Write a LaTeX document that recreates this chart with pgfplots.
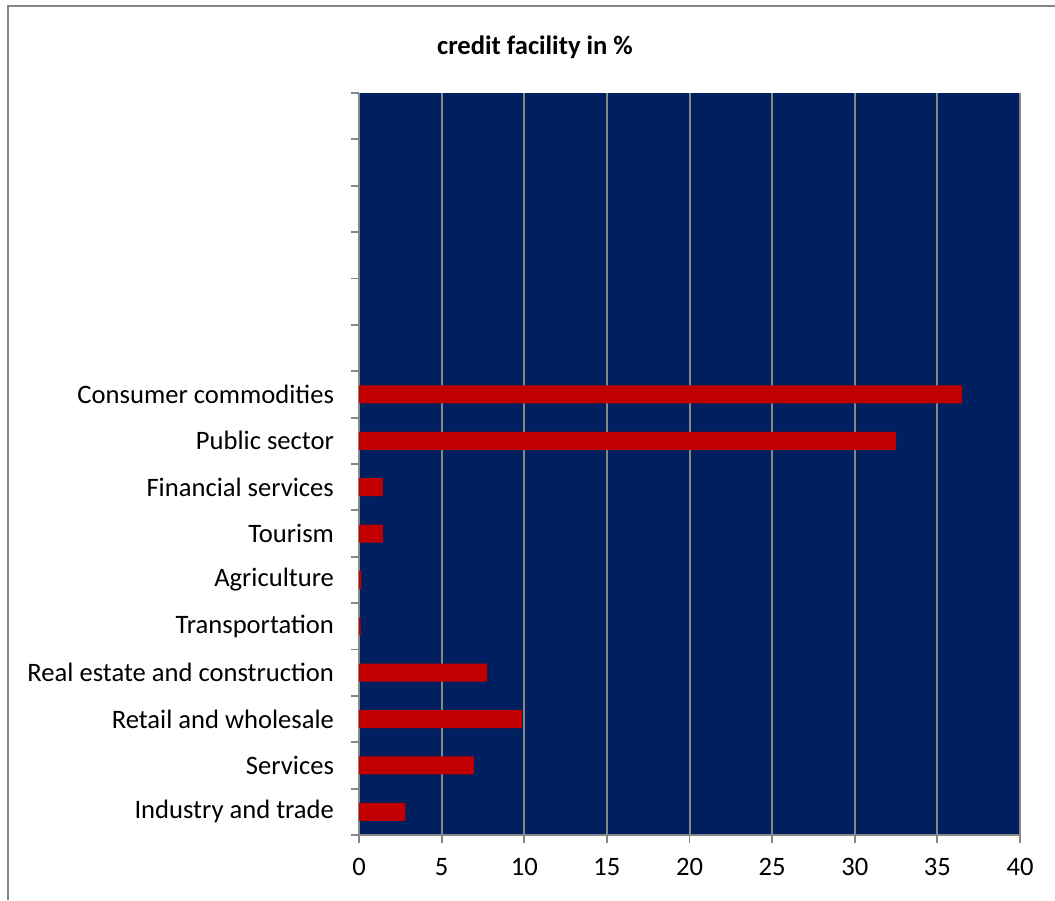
\documentclass[border=0pt]{standalone}
\usepackage{fontspec}
\setmainfont{Carlito}
\usepackage{pgfplots}
\pgfplotsset{compat=1.18}
\definecolor{bgblue}{RGB}{0,31,94}
\definecolor{barred}{RGB}{192,0,0}
\definecolor{gridgray}{RGB}{134,134,134}
\begin{document}
\begin{tikzpicture}
\path[use as bounding box] (0,0) rectangle (527.5pt,450pt);
\draw[gridgray, line width=1pt] (4pt,0) -- (4pt,447pt) -- (527.5pt,447pt);
\node[font=\fontsize{13.3pt}{15pt}\selectfont\bfseries] at (267.5pt,426.5pt) {credit facility in \%};
\begin{axis}[
  at={(179.5pt,32.5pt)}, anchor=south west,
  scale only axis, width=330.5pt, height=371pt,
  xmin=0, xmax=40, ymin=0.5, ymax=16.5,
  axis x line=bottom, axis y line=left,
  axis line style={-, gridgray, line width=1pt},
  axis background/.style={fill=bgblue},
  xtick={0,5,...,40},
  xmajorgrids, major grid style={gridgray, line width=1pt},
  tick align=outside,
  tick style={gridgray, line width=0.9pt},
  major tick length=4pt,
  ytick={0.5,1.5,...,16.5},
  yticklabels={},
  extra y ticks={1,...,10},
  extra y tick labels={Industry and trade, Services, Retail and wholesale, Real estate and construction, Transportation, Agriculture, Tourism, Financial services, Public sector, Consumer commodities},
  extra y tick style={major tick length=0pt, yticklabel style={xshift=-9pt}},
  ticklabel style={font=\fontsize{13.3pt}{15pt}\selectfont, text=black},
  xticklabel style={yshift=-4pt},
  /pgf/number format/assume math mode=true,
  xbar, bar width=9pt,
]
\addplot[fill=barred, draw=none] coordinates {
 (2.8,1) (6.95,2) (9.85,3) (7.75,4) (0.1,5) (0.15,6) (1.45,7) (1.45,8) (32.5,9) (36.5,10)
};
\end{axis}
\end{tikzpicture}
\end{document}
